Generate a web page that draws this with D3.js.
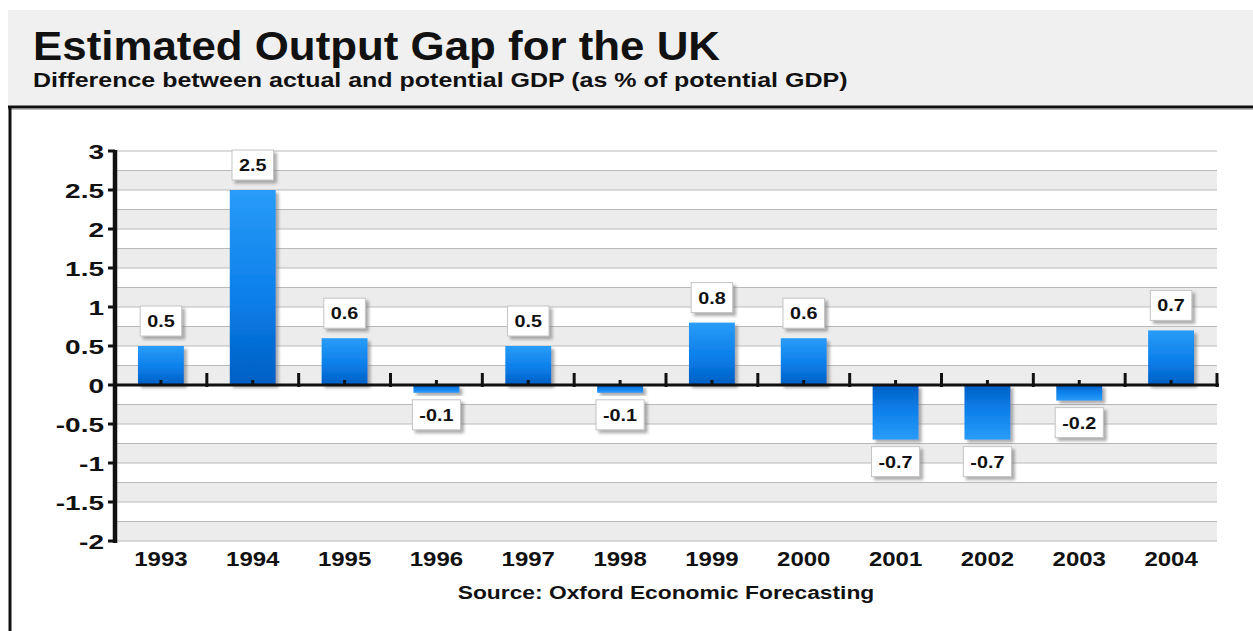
<!DOCTYPE html>
<html>
<head>
<meta charset="utf-8">
<script src="https://cdn.jsdelivr.net/npm/d3@7/dist/d3.min.js"></script>
<style>
  body { margin: 0; background: #fff; }
  text { font-family: "Liberation Sans", Arial, sans-serif; font-weight: bold; fill: #111; }
</style>
</head>
<body>
<svg id="chart" width="1253" height="631"></svg>
<script>
// data
var years = ["1993", "1994", "1995", "1996", "1997", "1998", "1999", "2000", "2001", "2002", "2003", "2004"];
var gap = [0.5, 2.5, 0.6, -0.1, 0.5, -0.1, 0.8, 0.6, -0.7, -0.7, -0.2, 0.7];
var yTicks = [-2, -1.5, -1, -0.5, 0, 0.5, 1, 1.5, 2, 2.5, 3];
var title = "Estimated Output Gap for the UK";
var subtitle = "Difference between actual and potential GDP (as % of potential GDP)";
var source = "Source: Oxford Economic Forecasting";

var svg = d3.select("#chart");
var W = 1253, H = 631;
var SX = 1.2; // text in the original is drawn a bit wide

// plain hyphen for negatives, like the original
var fmt = d3.formatLocale({decimal: ".", thousands: ",", grouping: [3], currency: ["", ""], minus: "-"});
var fmtTick = fmt.format("");
var fmtVal = fmt.format(".1f");

var defs = svg.append("defs");
var gUp = defs.append("linearGradient").attr("id", "barUp").attr("x1", 0).attr("y1", 0).attr("x2", 0).attr("y2", 1);
gUp.append("stop").attr("offset", "0%").attr("stop-color", "#2a9cf8");
gUp.append("stop").attr("offset", "55%").attr("stop-color", "#0b7fea");
gUp.append("stop").attr("offset", "100%").attr("stop-color", "#005fc4");
var gDn = defs.append("linearGradient").attr("id", "barDn").attr("x1", 0).attr("y1", 0).attr("x2", 0).attr("y2", 1);
gDn.append("stop").attr("offset", "0%").attr("stop-color", "#005fc4");
gDn.append("stop").attr("offset", "45%").attr("stop-color", "#0b7fea");
gDn.append("stop").attr("offset", "100%").attr("stop-color", "#2a9cf8");
var sh = defs.append("filter").attr("id", "shadow").attr("x", "-20%").attr("y", "-20%").attr("width", "150%").attr("height", "150%");
sh.append("feDropShadow").attr("dx", 3).attr("dy", 3).attr("stdDeviation", 1.5).attr("flood-color", "#777").attr("flood-opacity", 0.6);

// header + panel
svg.append("rect").attr("x", 8).attr("y", 10).attr("width", W - 8).attr("height", 97).attr("fill", "#f0f0f0");
svg.append("line").attr("x1", 8).attr("x2", W).attr("y1", 107).attr("y2", 107).attr("stroke", "#111").attr("stroke-width", 3);
svg.append("line").attr("x1", 8).attr("x2", W).attr("y1", 109.5).attr("y2", 109.5).attr("stroke", "#bbb").attr("stroke-width", 1);
svg.append("line").attr("x1", 10).attr("x2", 10).attr("y1", 106).attr("y2", H).attr("stroke", "#111").attr("stroke-width", 3);

function stretched(x, y, str, size, anchor, sx) {
    return svg.append("text")
        .attr("transform", "translate(" + x + "," + y + ") scale(" + (sx || SX) + ",1)")
        .attr("text-anchor", anchor || "start")
        .style("font-size", size + "px")
        .text(str);
}
stretched(33, 60, title, 41, "start", 1.07);
stretched(33, 87, subtitle, 20, "start", 1.25);

// scales
var x = d3.scaleBand().domain(years).range([115, 1217]).paddingInner(0.5).paddingOuter(0.25);
var y = d3.scaleLinear().domain([-2, 3]).range([541, 151]);
var step = x.step();

// background bands every 0.25
var bandVals = d3.range(-2, 3, 0.25);
svg.append("g").selectAll("rect").data(bandVals).enter().append("rect")
    .attr("x", 115).attr("width", 1217 - 115)
    .attr("y", function (d) { return y(d + 0.25); })
    .attr("height", function (d) { return y(d) - y(d + 0.25); })
    .attr("fill", function (d, i) { return i % 2 === 0 ? "#ececec" : "#ffffff"; });
svg.append("g").selectAll("line").data(d3.range(-2, 3.01, 0.25)).enter().append("line")
    .attr("x1", 115).attr("x2", 1217)
    .attr("y1", function (d) { return y(d); }).attr("y2", function (d) { return y(d); })
    .attr("stroke", "#b9b9b9").attr("stroke-width", 1.2);

// bars
var bars = svg.append("g");
bars.selectAll("rect").data(gap).enter().append("rect")
    .attr("x", function (d, i) { return x(years[i]); })
    .attr("width", x.bandwidth())
    .attr("y", function (d) { return d >= 0 ? y(d) : y(0); })
    .attr("height", function (d) { return Math.abs(y(d) - y(0)); })
    .attr("fill", function (d) { return d >= 0 ? "url(#barUp)" : "url(#barDn)"; })
    .attr("filter", "url(#shadow)");

// x axis
svg.append("line").attr("x1", 113).attr("x2", 1219).attr("y1", y(0)).attr("y2", y(0)).attr("stroke", "#111").attr("stroke-width", 3);
var edges = years.map(function (d) { return x(d) + x.bandwidth() / 2 + step / 2; });
svg.append("g").selectAll("line").data(edges).enter().append("line")
    .attr("x1", function (d) { return d; }).attr("x2", function (d) { return d; })
    .attr("y1", y(0) - 12).attr("y2", y(0) + 2)
    .attr("stroke", "#111").attr("stroke-width", 3);
svg.append("g").selectAll("line").data(years).enter().append("line")
    .attr("x1", function (d) { return x(d) + x.bandwidth() / 2; })
    .attr("x2", function (d) { return x(d) + x.bandwidth() / 2; })
    .attr("y1", y(0) - 5).attr("y2", y(0))
    .attr("stroke", "#111").attr("stroke-width", 3);

// y axis
svg.append("line").attr("x1", 115).attr("x2", 115).attr("y1", y(3) - 1).attr("y2", y(-2) + 2).attr("stroke", "#111").attr("stroke-width", 4.5);
svg.append("g").selectAll("line").data(yTicks).enter().append("line")
    .attr("x1", 108).attr("x2", 115)
    .attr("y1", function (d) { return y(d); }).attr("y2", function (d) { return y(d); })
    .attr("stroke", "#111").attr("stroke-width", 3);
yTicks.forEach(function (t) {
    svg.append("text")
        .attr("transform", "translate(104," + (y(t) + 7.5) + ") scale(1.4,1)")
        .attr("text-anchor", "end")
        .style("font-size", "20px")
        .text(fmtTick(t));
});

// year labels
years.forEach(function (yr) {
    stretched(x(yr) + x.bandwidth() / 2, 566, yr, 20, "middle");
});
stretched(666, 599, source, 19, "middle");

// value labels
gap.forEach(function (v, i) {
    var cx = x(years[i]) + x.bandwidth() / 2;
    var g = svg.append("g");
    var t = g.append("text")
        .attr("text-anchor", "middle")
        .style("font-size", "16.5px")
        .text(fmtVal(v));
    var tw = t.node().getComputedTextLength() * SX;
    var bw = tw + 14, bh = 30;
    var top = v >= 0 ? y(v) - 10 - bh : y(v) + 7;
    g.insert("rect", "text")
        .attr("x", cx - bw / 2).attr("y", top)
        .attr("width", bw).attr("height", bh)
        .attr("fill", "#fff").attr("stroke", "#c4c4c4").attr("stroke-width", 1)
        .attr("filter", "url(#shadow)");
    t.attr("transform", "translate(" + cx + "," + (top + bh / 2 + 6) + ") scale(" + SX + ",1)");
});
</script>
</body>
</html>
